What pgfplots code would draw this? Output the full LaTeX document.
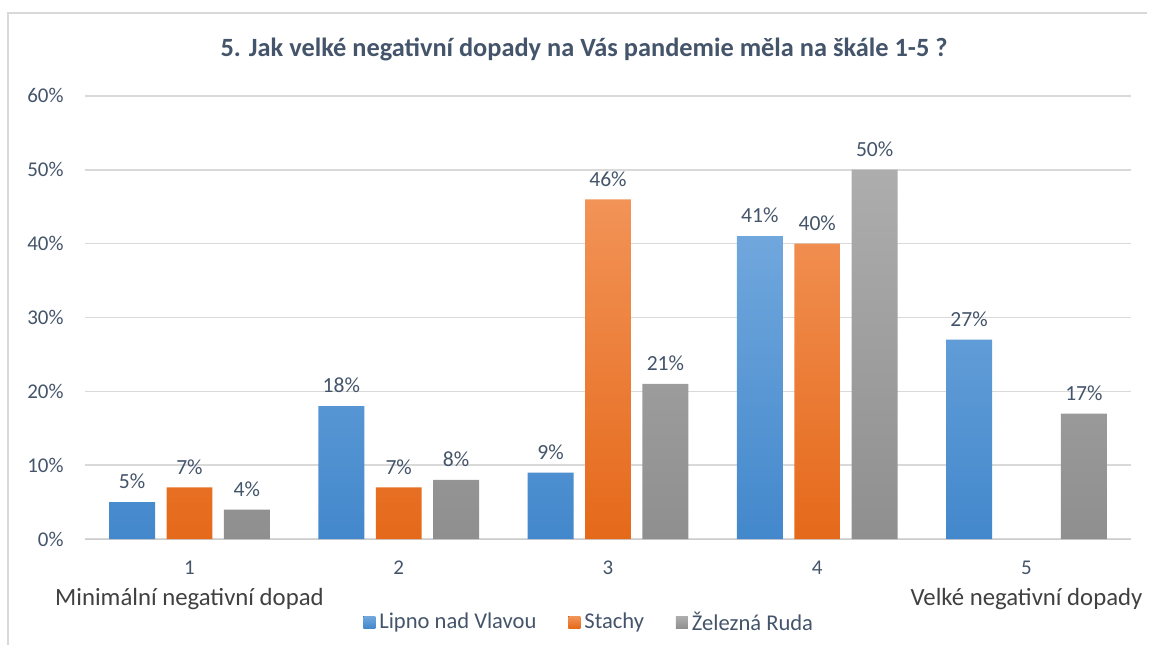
\documentclass[border=0pt]{standalone}
\usepackage{pgfplots}
\pgfplotsset{compat=1.18}
\usepackage{fontspec}
\setmainfont{Carlito}
\definecolor{txt}{HTML}{44546A}
\definecolor{lbl}{HTML}{404040}
\definecolor{gridc}{HTML}{D9D9D9}
\definecolor{bluet}{HTML}{70A7DD}
\definecolor{blueb}{HTML}{4388CC}
\definecolor{oranget}{HTML}{F29357}
\definecolor{orangeb}{HTML}{E5691A}
\definecolor{grayt}{HTML}{ADADAD}
\definecolor{grayb}{HTML}{8F8F8F}
\begin{document}
\begin{tikzpicture}
\begin{axis}[
  at={(0,0)}, anchor=origin,
  scale only axis,
  width=524pt, height=222pt,
  xmin=0.5, xmax=5.5, ymin=0, ymax=60,
  ybar=5.75pt, bar width=23pt,
  axis x line*=bottom,
  axis y line*=left,
  x axis line style={draw=gridc!85!gray, -},
  y axis line style={draw=none, -},
  xmajorgrids=false,
  ymajorgrids, grid style={draw=gridc, line width=0.8pt},
  ytick={0,10,...,60},
  yticklabels={},
  major tick length=0pt,
  xtick style={draw=none}, ytick style={draw=none},
  xtick={1,2,3,4,5},
  xticklabels={{1\\\textcolor{lbl}{\fontsize{12.4}{15}\selectfont Minimální negativní dopad}},2,3,4,{5\\\textcolor{lbl}{\fontsize{12.4}{15}\selectfont Velké negativní dopady}}},
  xticklabel style={align=center, text=txt, font=\fontsize{10.5}{15.5}\selectfont, yshift=-7.5pt},
  /pgf/number format/assume math mode=true,
  clip=false,
  nodes near coords={\pgfmathprintnumber{\pgfplotspointmeta}\%},
  every node near coord/.append style={text=txt, font=\fontsize{10.8}{12}\selectfont, yshift=3pt},
  legend style={at={(0.483,-0.188)}, anchor=center, draw=none, fill=none,
    legend columns=3, font=\fontsize{11.3}{13}\selectfont, text=txt,
    /tikz/every even column/.append style={column sep=14pt}},
  legend image code/.code={\fill[#1] (0pt,-3pt) rectangle (6pt,3pt);},
]
\addplot[draw=none, top color=bluet, bottom color=blueb] coordinates {(1,5) (2,18) (3,9) (4,41) (5,27)};
\addplot[draw=none, top color=oranget, bottom color=orangeb] coordinates {(1,7) (2,7) (3,46) (4,40)};
\addplot[draw=none, top color=grayt, bottom color=grayb] coordinates {(1,4) (2,8) (3,21) (4,50) (5,17)};
\legend{Lipno nad Vlavou, Stachy, Železná Ruda}
% y tick labels
\foreach \v in {0,10,...,60} {
  \edef\tmp{\noexpand\node[anchor=east, text=txt, font=\noexpand\fontsize{10.5}{12}\noexpand\selectfont, inner sep=0pt] at (axis cs:0.5,\v) [xshift=-10.5pt] {\v\noexpand\%};}
  \tmp
}
\end{axis}
% frame and bounding box
\path (-42.5pt,-53pt) rectangle (532pt,270pt);
\draw[gridc, line width=0.8pt] (-38.5pt,-53pt) -- (-38.5pt,263.5pt) -- (532pt,263.5pt);
\node[font=\bfseries\fontsize{13.2}{15}\selectfont, text=txt] at (250pt,245pt) {5. Jak velké negativní dopady na Vás pandemie měla na škále 1-5 ?};
\end{tikzpicture}
\end{document}
